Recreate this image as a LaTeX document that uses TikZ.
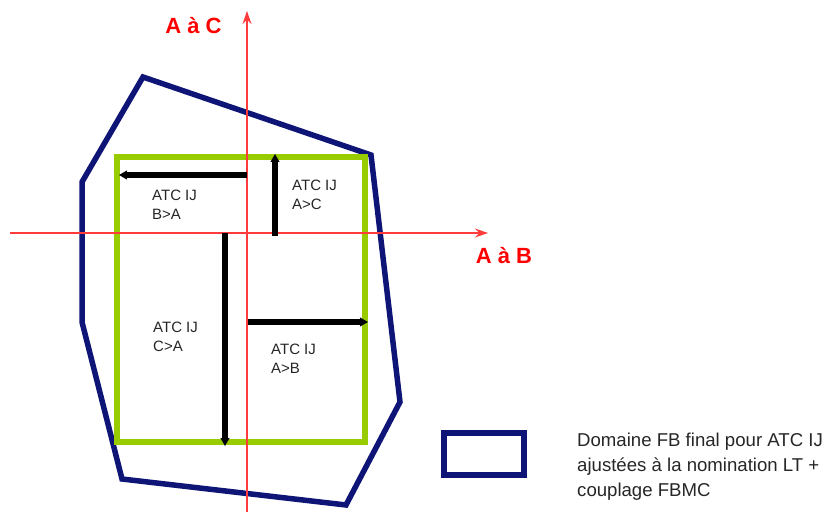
\documentclass[tikz,border=0pt]{standalone}
\usepackage{fontspec}
\setmainfont{Liberation Sans}
\usetikzlibrary{arrows.meta}
\definecolor{navy}{HTML}{0E1577}
\definecolor{lime}{HTML}{99CC00}
\definecolor{axisred}{HTML}{FF3B3B}
\tikzset{
  axis/.style={draw=axisred, line width=1.3pt, -{Stealth[length=13pt,width=9pt]}},
  atc/.style={draw=black, line width=5.5pt, -{Stealth[length=8pt,width=9pt,inset=1pt]}},
  lbl/.style={font=\fontsize{15}{19}\selectfont, align=left, anchor=north west, inner sep=0pt, text=black!85},
  axlbl/.style={font=\fontsize{22}{24}\selectfont\bfseries, text=red},
  legtxt/.style={font=\fontsize{18.6}{25}\selectfont, align=left, anchor=north west, inner sep=0pt, text=black!85}
}
\begin{document}
\begin{tikzpicture}[x=1pt,y=-1pt]
\useasboundingbox (0,0) rectangle (831,516);
% domain polygon
\draw[navy, line width=5.5pt, line join=miter]
  (143,77) -- (371,155) -- (400,402) -- (346,505) -- (122,479) -- (82,322) -- (82,182) -- cycle;
% green box
\draw[lime, line width=6.5pt] (117,157) rectangle (365,442);
% axes
\coordinate (xs) at (10,233);
\coordinate (xe) at (488,233);
\coordinate (ys) at (247,512);
\coordinate (ye) at (247,11);
\draw[axis] (xs) -- (xe);
\draw[axis] (ys) -- (ye);
\node[axlbl] (lac) at (193.5,26) {A à C};
\node[axlbl] (lab) at (504,256) {A à B};
% ATC arrows
\coordinate (ba0) at (247,175);
\coordinate (ba1) at (119,175);
\coordinate (ac0) at (275,236);
\coordinate (ac1) at (275,154);
\coordinate (ca0) at (225,233);
\coordinate (ca1) at (225,446);
\coordinate (ab0) at (248,322);
\coordinate (ab1) at (368,322);
\draw[atc] (ba0) -- (ba1);
\draw[atc] (ac0) -- (ac1);
\draw[atc] (ca0) -- (ca1);
\draw[atc] (ab0) -- (ab1);
\node[lbl] (tba) at (152,190) {ATC IJ\\B>A};
\node[lbl] (tac) at (292,180) {ATC IJ\\A>C};
\node[lbl] (tca) at (153,322) {ATC IJ\\C>A};
\node[lbl] (tab) at (271,344) {ATC IJ\\A>B};
% legend
\draw[navy, line width=5.5pt] (444,433) rectangle (524,475);
\node[legtxt] (leg) at (577,433) {Domaine FB final pour ATC IJ\\ajustées à la nomination LT +\\couplage FBMC};
\end{tikzpicture}
\end{document}
